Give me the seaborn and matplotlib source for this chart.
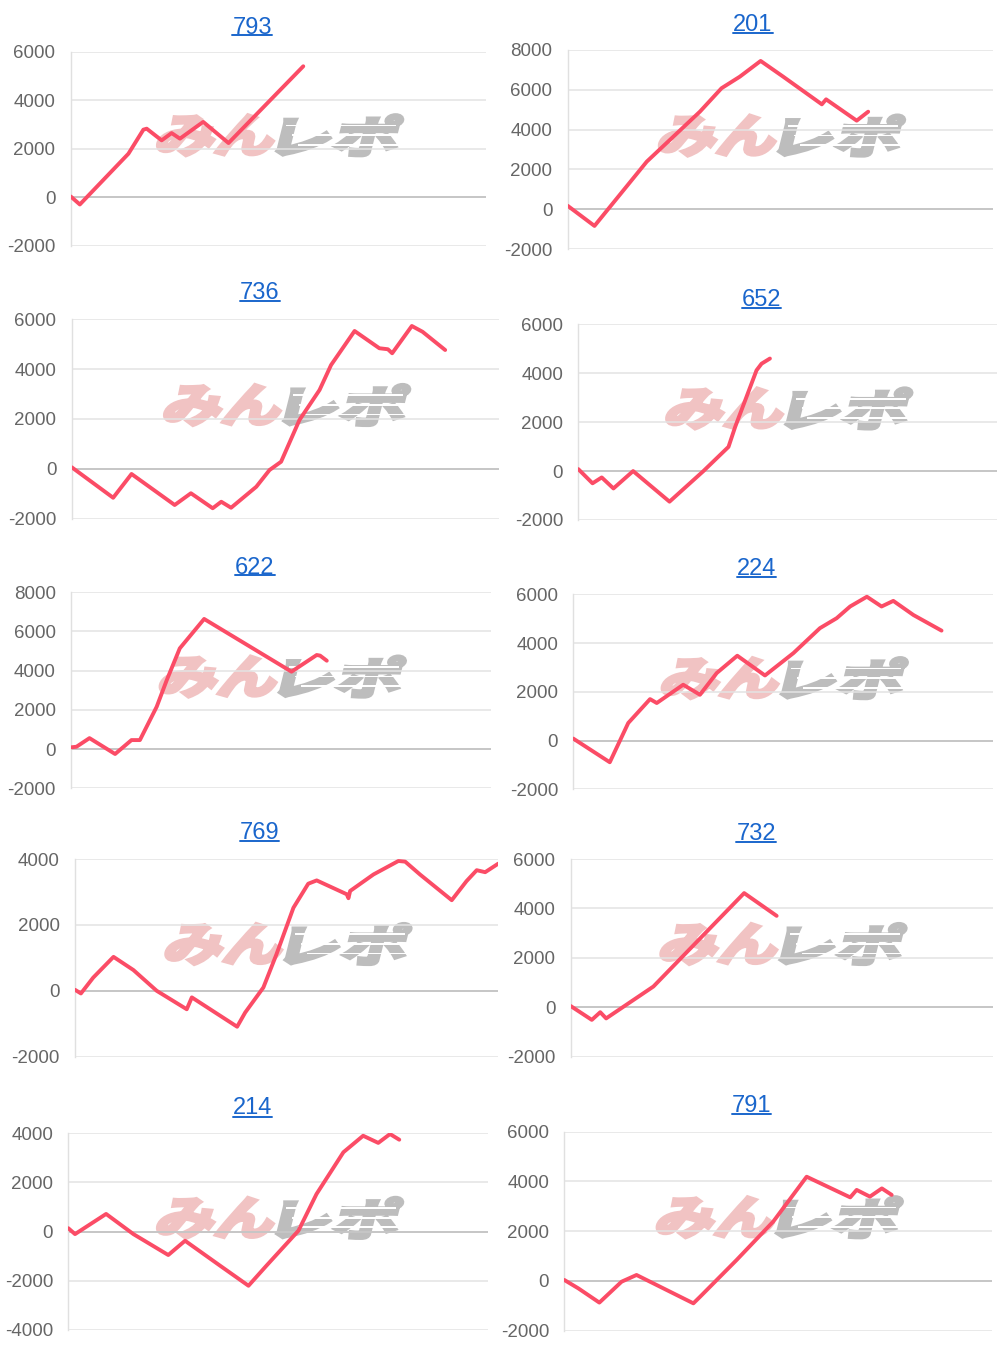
import numpy as np
import pandas as pd
import matplotlib
matplotlib.use("Agg")
from matplotlib import pyplot as plt
from matplotlib.textpath import TextPath
from matplotlib.font_manager import FontProperties
from matplotlib.patches import PathPatch, Rectangle
from matplotlib.transforms import Affine2D
from matplotlib.lines import Line2D
import seaborn as sns

# x is the position along each panel (0-100), y the running balance
titles = ['793', '201', '736', '652', '622', '224', '769', '732', '214', '791']

x_793 = [0, 2.2, 13.9, 17.5, 18.3, 21.9, 24.3, 26.3, 31.9, 38.0, 56.0]
y_793 = [40, -290, 1800, 2790, 2830, 2350, 2650, 2420, 3110, 2240, 5400]

x_201 = [0, 6.3, 18.6, 31.1, 36.2, 40.5, 45.4, 50.7, 59.8, 60.8, 68.0, 69.2, 70.7]
y_201 = [170, -840, 2390, 4900, 6080, 6660, 7450, 6660, 5270, 5520, 4450, 4650, 4900]

x_736 = [0, 9.7, 14.0, 24.1, 27.9, 33.0, 35.0, 37.3, 43.2, 46.3, 49.0, 53.3, 58.0,
         60.7, 66.2, 72.0, 74.0, 75.0, 79.6, 82.1, 87.4]
y_736 = [70, -1150, -200, -1440, -970, -1570, -1310, -1550, -710, -40, 290, 1960, 3160,
         4160, 5520, 4830, 4790, 4630, 5720, 5490, 4760]

x_652 = [0, 3.4, 5.6, 8.4, 13.1, 21.8, 29.9, 35.9, 37.5, 42.6, 43.8, 45.8]
y_652 = [80, -500, -260, -710, 0, -1250, 0, 990, 1810, 4120, 4390, 4600]

x_622 = [0, 1.3, 4.4, 10.5, 14.4, 16.4, 20.4, 22.8, 25.9, 31.7, 52.5, 58.5, 59.3, 60.9]
y_622 = [90, 120, 560, -250, 460, 460, 2160, 3520, 5140, 6640, 3950, 4800, 4770, 4510]

x_224 = [0, 8.7, 13.1, 18.3, 19.9, 26.2, 30.2, 34.2, 39.1, 45.7, 52.5, 58.8, 62.8,
         66.0, 70.0, 73.5, 76.3, 81.1, 87.8]
y_224 = [80, -890, 720, 1700, 1540, 2290, 1880, 2770, 3480, 2670, 3590, 4610, 5020,
         5500, 5900, 5500, 5730, 5150, 4510]

x_769 = [0, 1.4, 4.3, 9.1, 13.8, 19.3, 26.4, 27.6, 38.3, 40.2, 44.5, 47.6, 51.6, 55.1,
         57.1, 64.2, 64.6, 65.0, 70.5, 76.4, 78.0, 81.5, 89.0, 92.5, 94.9, 96.9, 100]
y_769 = [30, -80, 400, 1030, 630, 0, -560, -200, -1090, -660, 100, 1110, 2520, 3250,
         3350, 2930, 2810, 3030, 3530, 3940, 3920, 3530, 2750, 3330, 3660, 3600, 3860]

x_732 = [0, 5.0, 7.0, 8.4, 19.6, 41.1, 48.8]
y_732 = [50, -510, -200, -450, 840, 4620, 3700]

x_214 = [0, 1.6, 9.0, 15.5, 23.8, 27.8, 36.1, 42.9, 47.2, 54.8, 59.1, 65.5, 70.2,
         73.8, 76.6, 78.8]
y_214 = [140, -100, 720, -100, -950, -370, -1380, -2200, -1380, 40, 1530, 3230, 3900,
         3610, 3970, 3740]

x_791 = [0, 3.3, 8.2, 13.4, 16.9, 30.2, 31.8, 40.3, 48.9, 56.7, 66.9, 68.4, 71.5,
         74.3, 76.6]
y_791 = [40, -300, -870, -30, 240, -900, -630, 840, 2390, 4190, 3360, 3660, 3390,
         3720, 3460]

series = {
    '793': (x_793, y_793), '201': (x_201, y_201), '736': (x_736, y_736),
    '652': (x_652, y_652), '622': (x_622, y_622), '224': (x_224, y_224),
    '769': (x_769, y_769), '732': (x_732, y_732), '214': (x_214, y_214),
    '791': (x_791, y_791),
}

y_ticks = {
    '793': [-2000, 0, 2000, 4000, 6000],
    '201': [-2000, 0, 2000, 4000, 6000, 8000],
    '736': [-2000, 0, 2000, 4000, 6000],
    '652': [-2000, 0, 2000, 4000, 6000],
    '622': [-2000, 0, 2000, 4000, 6000, 8000],
    '224': [-2000, 0, 2000, 4000, 6000],
    '769': [-2000, 0, 2000, 4000],
    '732': [-2000, 0, 2000, 4000, 6000],
    '214': [-4000, -2000, 0, 2000, 4000],
    '791': [-2000, 0, 2000, 4000, 6000],
}

# panel boxes in pixels: left, right, top, bottom, title x, title y
layout = [
    (70.7, 486.0, 51.7, 246.0, 252.0, 25.0),
    (567.7, 992.7, 50.0, 249.0, 753.0, 22.5),
    (71.7, 499.0, 319.0, 519.0, 260.0, 290.5),
    (578.3, 996.7, 324.3, 520.0, 761.5, 297.5),
    (71.0, 491.0, 592.3, 788.3, 255.0, 565.0),
    (573.3, 992.7, 594.3, 789.3, 756.7, 567.0),
    (75.0, 498.3, 859.0, 1056.7, 259.5, 830.5),
    (570.7, 992.7, 859.0, 1056.7, 756.0, 831.5),
    (68.3, 488.3, 1133.3, 1330.0, 252.5, 1106.0),
    (564.3, 991.7, 1131.7, 1330.7, 751.5, 1103.5),
]

W, H = 1000, 1352
LINE = '#fb4c66'
LINK = '#1a66cc'

sns.set_theme(style='white')
plt.rcParams['font.family'] = ['Liberation Sans', 'DejaVu Sans']

fig = plt.figure(figsize=(W / 100, H / 100), dpi=100)

fp = FontProperties(family='Noto Sans CJK JP', weight='bold')


def add_mark(ax, cx, cy):
    # "みんレポ" watermark, pink + grey, slanted and heavy
    parts = [('みん', '#f1c3c3', cx - 118, 114), ('レポ', '#bdbdbd', cx + 3, 117)]
    h = 40
    for s, col, x0, w in parts:
        p = TextPath((0, 0), s, size=1, prop=fp)
        e = p.get_extents()
        sx = w / e.width / 100
        sy = h / e.height / 100
        shift = np.tan(np.radians(14)) * h / 100 / 2
        tr = (Affine2D().translate(-e.x0, -e.y0).scale(sx, sy).skew_deg(14, 0)
              .translate(x0 / 100 - shift, (H - cy - h / 2) / 100))
        patch = PathPatch(p, transform=tr + fig.dpi_scale_trans, facecolor=col,
                          edgecolor=col, linewidth=3.0, joinstyle='miter',
                          zorder=2, clip_on=False)
        ax.add_patch(patch)
    # speed-line cuts through the grey half
    for k, f in enumerate([0.28, 0.52, 0.76]):
        yy = (H - (cy - h / 2 + f * h)) / 100
        ax.add_patch(Rectangle(((cx + 8 + 6 * k) / 100, yy), 1.1, 0.018,
                               transform=fig.dpi_scale_trans, facecolor='white',
                               edgecolor='none', zorder=2.1, clip_on=False))


title_texts = []
for name, (l, r, t, b, tx, ty) in zip(titles, layout):
    ax = fig.add_axes([l / W, 1 - b / H, (r - l) / W, (b - t) / H])
    xs, ys = series[name]
    df = pd.DataFrame({'x': xs, 'y': ys})
    ticks = y_ticks[name]
    add_mark(ax, l + 0.5 * (r - l), t + 0.43 * (b - t))
    for v in ticks:
        ax.axhline(v, color='#c6c6c6' if v == 0 else '#e3e3e3',
                   lw=1.4 if v == 0 else 1.1, zorder=2.5)
    sns.lineplot(data=df, x='x', y='y', ax=ax, color=LINE, linewidth=2.8, zorder=3)
    ax.set_xlim(0, 100)
    ax.set_ylim(ticks[0], ticks[-1])
    ax.set_xticks([])
    ax.set_yticks(ticks)
    ax.set_yticklabels([str(v) for v in ticks])
    ax.set_xlabel('')
    ax.set_ylabel('')
    ax.tick_params(axis='y', length=0, pad=11, labelsize=13.5, labelcolor='#666666')
    for side in ['top', 'right', 'bottom']:
        ax.spines[side].set_visible(False)
    ax.spines['left'].set_color('#e0e0e0')
    ax.spines['left'].set_linewidth(1.0)
    ax.patch.set_alpha(0)

    tt = fig.text(tx / W, 1 - (ty + 8.5) / H, name, ha='center', va='baseline',
                  fontsize=17, color=LINK)
    title_texts.append(tt)

renderer = fig.canvas.get_renderer()
for tt in title_texts:
    bb = tt.get_window_extent(renderer)
    x0, x1 = bb.x0 / W, bb.x1 / W
    yb = tt.get_position()[1] - 2.0 / H
    fig.add_artist(Line2D([x0, x1], [yb, yb], transform=fig.transFigure,
                          color=LINK, lw=1.4))

fig.savefig('out.png', dpi=100)
